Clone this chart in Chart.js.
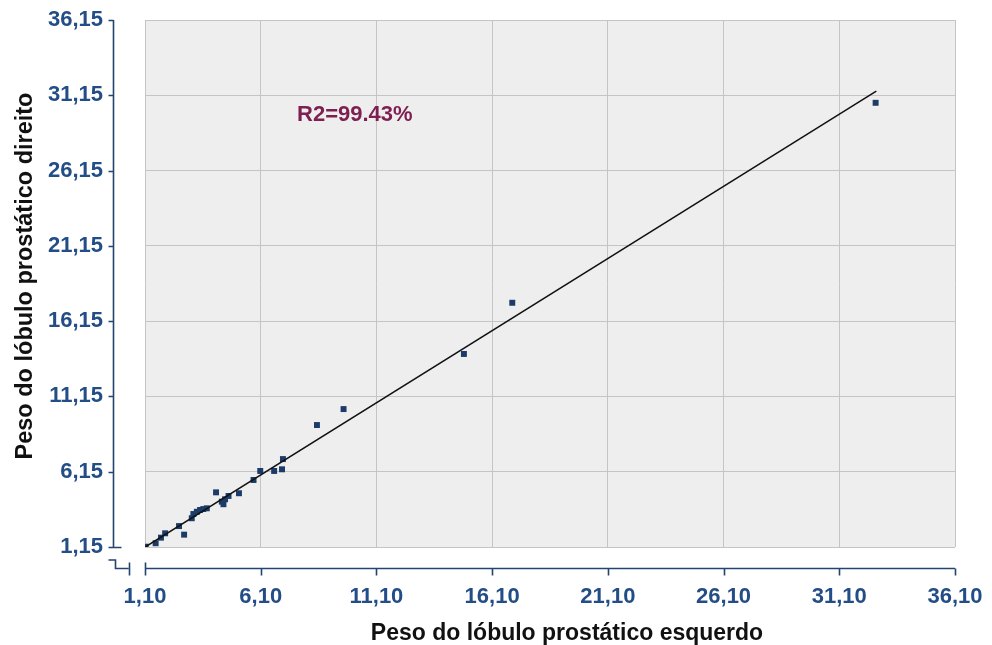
<!DOCTYPE html>
<html>
<head>
<meta charset="utf-8">
<script src="https://cdn.jsdelivr.net/npm/chart.js@4/dist/chart.umd.min.js"></script>
<style>
  html, body { margin: 0; padding: 0; background: #ffffff; }
  #wrap { width: 992px; height: 645px; position: relative; }
</style>
</head>
<body>
<div id="wrap"><canvas id="chart" width="992" height="645"></canvas></div>
<script>
// Prostate lobe weights: left lobe (x) against right lobe (y)
const leftLobe  = [1.13, 1.56, 1.79, 1.97, 2.57, 2.79, 3.12, 3.19, 3.34, 3.48, 3.62, 3.77,
                   4.17, 4.42, 4.49, 4.56, 4.71, 5.16, 5.79, 6.08, 6.68, 7.02, 7.06,
                   8.53, 9.68, 14.88, 16.97, 32.67];
const rightLobe = [1.17, 1.40, 1.77, 2.06, 2.54, 1.97, 3.06, 3.34, 3.49, 3.61, 3.67, 3.72,
                   4.78, 4.16, 3.99, 4.32, 4.54, 4.72, 5.60, 6.20, 6.20, 6.31, 6.99,
                   9.25, 10.31, 13.97, 17.37, 30.65];

// Fitted trend line, end points
const trendX = [1.13, 32.70];
const trendY = [1.17, 31.43];

// Axis ticks
const xTicks = [1.10, 6.10, 11.10, 16.10, 21.10, 26.10, 31.10, 36.10];
const yTicks = [1.15, 6.15, 11.15, 16.15, 21.15, 26.15, 31.15, 36.15];
const xTickLabels = ['1,10', '6,10', '11,10', '16,10', '21,10', '26,10', '31,10', '36,10'];
const yTickLabels = ['1,15', '6,15', '11,15', '16,15', '21,15', '26,15', '31,15', '36,15'];

const xTitle = 'Peso do lóbulo prostático esquerdo';
const yTitle = 'Peso do lóbulo prostático direito';
const fitLabel = 'R2=99.43%';
const fitLabelAt = [7.67, 29.85];

const FONT = '"Liberation Sans", Arial, sans-serif';
const AXIS_BLUE = '#24446f';
const TICK_BLUE = '#234d86';

const points = leftLobe.map((x, i) => ({ x: x, y: rightLobe[i] }));
const trend = trendX.map((x, i) => ({ x: x, y: trendY[i] }));

// Grey plot background, detached axes with break marks, titles and the fit label
const decor = {
  id: 'decor',
  beforeDraw(chart) {
    const { ctx, chartArea: a } = chart;
    ctx.save();
    ctx.fillStyle = '#eeeeee';
    ctx.fillRect(a.left, a.top, a.right - a.left, a.bottom - a.top);
    ctx.restore();
  },
  afterDraw(chart) {
    const { ctx, chartArea: a, scales } = chart;
    const xs = scales.x, ys = scales.y;
    ctx.save();
    ctx.strokeStyle = AXIS_BLUE;
    ctx.lineWidth = 1.6;
    ctx.lineCap = 'butt';

    // vertical axis, offset to the left of the plot
    const ax = Math.round(a.left - 32) + 0.5;
    ctx.beginPath();
    ctx.moveTo(ax, a.top);
    ctx.lineTo(ax, a.bottom);
    yTicks.forEach((v, i) => {
      const py = Math.round(ys.getPixelForValue(v)) + 0.5;
      ctx.moveTo(ax - 5, py);
      ctx.lineTo(i === 0 ? ax + 8 : ax, py);
    });
    ctx.stroke();

    // horizontal axis, offset below the plot
    const ay = Math.round(a.bottom + 21) + 0.5;
    ctx.beginPath();
    ctx.moveTo(a.left, ay);
    ctx.lineTo(a.right, ay);
    xTicks.forEach((v, i) => {
      const px = Math.round(xs.getPixelForValue(v)) + 0.5;
      ctx.moveTo(px, i === 0 ? ay - 6 : ay);
      ctx.lineTo(px, ay + 7);
    });
    ctx.stroke();

    // axis break marks at the origin corner
    ctx.beginPath();
    ctx.moveTo(ax - 5, a.bottom + 13);
    ctx.lineTo(ax + 2, a.bottom + 13);
    ctx.lineTo(ax + 2, ay);
    ctx.lineTo(ax + 15, ay);
    ctx.moveTo(ax + 16, ay - 6);
    ctx.lineTo(ax + 16, ay + 7);
    ctx.stroke();

    // axis titles
    ctx.fillStyle = '#111111';
    ctx.font = 'bold 23px ' + FONT;
    ctx.textAlign = 'center';
    ctx.textBaseline = 'alphabetic';
    ctx.fillText(xTitle, 567, 640);
    ctx.save();
    ctx.translate(32, 276);
    ctx.rotate(-Math.PI / 2);
    ctx.font = 'bold 23.5px ' + FONT;
    ctx.fillText(yTitle, 0, 0);
    ctx.restore();

    // coefficient of determination
    ctx.fillStyle = '#7d1f50';
    ctx.font = 'bold 22px ' + FONT;
    ctx.textAlign = 'left';
    ctx.textBaseline = 'middle';
    ctx.fillText(fitLabel, xs.getPixelForValue(fitLabelAt[0]), ys.getPixelForValue(fitLabelAt[1]));
    ctx.restore();
  }
};

new Chart(document.getElementById('chart'), {
  type: 'scatter',
  data: {
    datasets: [
      {
        label: 'Peso',
        data: points,
        pointStyle: 'rect',
        pointRadius: 4.2,
        pointBackgroundColor: '#1b3b68',
        pointBorderWidth: 0,
        order: 2
      },
      {
        label: 'Tendência',
        type: 'line',
        data: trend,
        borderColor: '#111111',
        borderWidth: 1.5,
        pointRadius: 0,
        fill: false,
        order: 1
      }
    ]
  },
  options: {
    responsive: false,
    animation: false,
    devicePixelRatio: 1,
    layout: { padding: { left: 0, right: 37, top: 20, bottom: 0 } },
    plugins: { legend: { display: false }, tooltip: { enabled: false } },
    scales: {
      x: {
        type: 'linear',
        min: 1.10,
        max: 36.10,
        afterBuildTicks(scale) { scale.ticks = xTicks.map(v => ({ value: v })); },
        afterFit(scale) {
          scale.height = 98;
          scale.paddingLeft = 0;
          scale.paddingRight = 0;
        },
        ticks: {
          callback: (v, i) => xTickLabels[i],
          color: TICK_BLUE,
          font: { family: FONT, size: 22, weight: 'bold' },
          padding: 37,
          maxRotation: 0,
          autoSkip: false
        },
        grid: { color: '#c4c4c4', lineWidth: 1, drawTicks: false },
        border: { display: false }
      },
      y: {
        type: 'linear',
        min: 1.15,
        max: 36.15,
        afterBuildTicks(scale) { scale.ticks = yTicks.map(v => ({ value: v })); },
        afterFit(scale) {
          scale.width = 145;
          scale.paddingTop = 0;
          scale.paddingBottom = 0;
        },
        ticks: {
          callback: (v, i) => yTickLabels[i],
          color: TICK_BLUE,
          font: { family: FONT, size: 22, weight: 'bold' },
          padding: 42,
          autoSkip: false
        },
        grid: { color: '#c4c4c4', lineWidth: 1, drawTicks: false },
        border: { display: false }
      }
    }
  },
  plugins: [decor]
});
</script>
</body>
</html>
